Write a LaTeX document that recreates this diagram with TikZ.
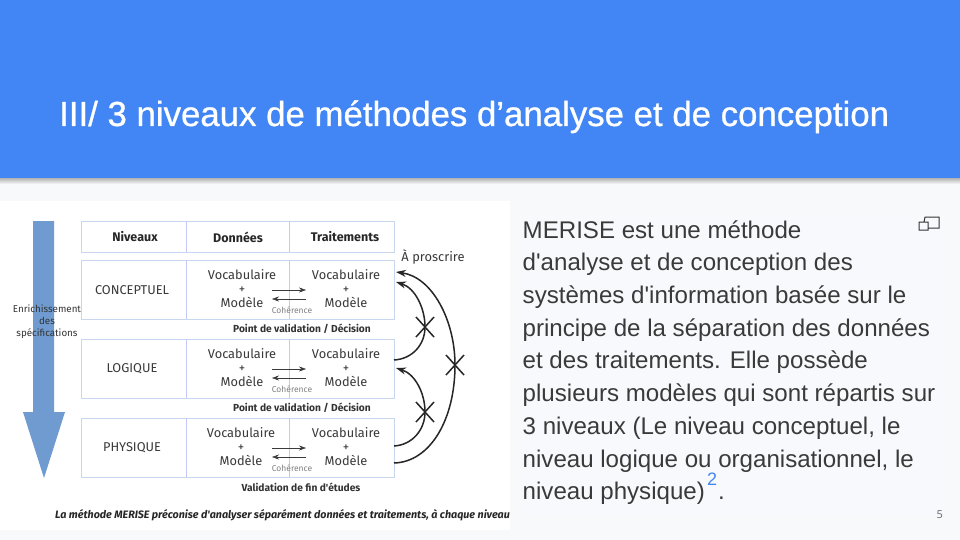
\documentclass[tikz,border=0pt]{standalone}
\usepackage{fontspec}
\setmainfont{Liberation Sans}
\newfontfamily\titlef[FakeBold=0.8]{Liberation Sans}
\newfontfamily\parf{Liberation Sans}
\newfontfamily\dia{Fira Sans}
\newfontfamily\numf{Noto Sans}
\usetikzlibrary{arrows.meta,calc}
\definecolor{hdr}{HTML}{4285F4}
\definecolor{slidebg}{HTML}{F8F9FA}
\definecolor{panel}{HTML}{F8F9FC}
\definecolor{cell}{HTML}{C9D6F0}
\definecolor{cellv}{HTML}{C4C8F8}
\definecolor{ink}{HTML}{3A3A3A}
\definecolor{arrowblue}{HTML}{6F9BD1}
\tikzset{
  x=1pt,y=-1pt,
  title/.style={anchor=base west,inner sep=0,text=white,font=\titlef\fontsize{34.8}{38}\selectfont},
  para/.style={anchor=base west,inner sep=0,text=ink,font=\parf\fontsize{24.1}{28}\selectfont},
  cellbox/.style={draw=cell,line width=1pt,fill=white},
  split/.style={draw=cellv,line width=1pt},
  headtxt/.style={inner sep=0,text=black!85,font=\dia\bfseries\fontsize{12.5}{14}\selectfont},
  leveltxt/.style={inner sep=0,text=ink,font=\dia\fontsize{12.8}{14}\selectfont},
  vmtxt/.style={inner sep=0,align=center,text=ink,font=\dia\fontsize{12.8}{14}\selectfont},
  valid/.style={inner sep=0,text=black!80,font=\dia\bfseries\fontsize{10.2}{11}\selectfont},
  coh/.style={inner sep=0,text=gray,font=\dia\fontsize{8.5}{9}\selectfont},
  thin arrow/.style={draw=ink,line width=.5pt,-{Stealth[length=7pt,width=5pt]}},
  big arc/.style={draw=black!85,line width=1.5pt,-{Stealth[length=10pt,width=7pt]}},
  cross/.style={draw=black!85,line width=1.5pt},
}
\newcommand{\levelrow}[4]{%
  \path[cellbox] (81,#1) rectangle (394,#1+59);
  \draw[split] (186,#1) -- (186,#1+59);
  \draw[split] (289,#1) -- (289,#1+59);
  \node[leveltxt] (lvl#2) at (132,#1+30) {#3};
  \node[vmtxt,anchor=center] (don#2) at (#4,#1+29) {Vocabulaire\\+\\Modèle};
  \node[vmtxt,anchor=center] (trt#2) at (346,#1+29) {Vocabulaire\\+\\Modèle};
  \coordinate (ra#2) at (272,#1+30);
  \coordinate (rb#2) at (306,#1+30);
  \coordinate (la#2) at (272,#1+39);
  \coordinate (lb#2) at (306,#1+39);
  \draw[thin arrow] (ra#2) -- (rb#2);
  \draw[thin arrow] (lb#2) -- (la#2);
  \node[coh] (coh#2) at (292,#1+50) {Cohérence};
}
\begin{document}
\begin{tikzpicture}
\useasboundingbox (0,0) rectangle (960,540);
\fill[slidebg] (0,0) rectangle (960,540);
\shade[top color=black!30,bottom color=slidebg] (0,178) rectangle (960,184);
\fill[hdr] (0,0) rectangle (960,178);
\node[title] (titre) at (59,126) {III/ 3 niveaux de méthodes d’analyse et de conception};

% left image
\fill[white] (0,201) rectangle (510,530);
\fill[arrowblue] (33,221) -- (54,221) -- (54,412) -- (65,412) -- (44,478) -- (23,412) -- (33,412) -- cycle;
\node[inner sep=0,align=center,text=black!80,font=\dia\fontsize{9.8}{12}\selectfont] (enrich) at (47,322) {Enrichissement\\des\\spécifications};

% header row
\path[cellbox] (81,221) rectangle (394,252);
\draw[split] (186,221) -- (186,252);
\draw[split] (289,221) -- (289,252);
\node[headtxt] (h1) at (135,237) {Niveaux};
\node[headtxt] (h2) at (238,237) {Données};
\node[headtxt] (h3) at (345,237) {Traitements};

\levelrow{260}{c}{CONCEPTUEL}{242}
\levelrow{339}{l}{LOGIQUE}{242}
\levelrow{418}{p}{PHYSIQUE}{241}

\node[valid] (v1) at (302,329) {Point de validation / Décision};
\node[valid] (v2) at (302,408) {Point de validation / Décision};
\node[valid] (v3) at (301,487) {Validation de fin d'études};
\node[inner sep=0,text=ink,font=\dia\fontsize{12.9}{14}\selectfont] (pros) at (433,257) {À proscrire};
\node[anchor=base west,inner sep=0,text=black!85,font=\dia\itshape\bfseries\fontsize{10.75}{12}\selectfont] (note) at (55,518) {La méthode MERISE préconise d'analyser séparément données et traitements, à chaque niveau};

% arcs
\coordinate (c1s) at (396,272);
\coordinate (c2e) at (396,282);
\coordinate (l1s) at (394,360);
\coordinate (l1e) at (396,368);
\coordinate (p1s) at (394,446);
\coordinate (p2s) at (394,463);
\draw[big arc] (l1s) .. controls (412,359) and (425,345) .. (425,327) .. controls (425,308) and (415,288) .. (c2e);
\draw[big arc] (p1s) .. controls (412,445) and (425,430) .. (425,412) .. controls (425,393) and (415,374) .. (l1e);
\draw[big arc] (p2s) .. controls (430,462) and (455,420) .. (455,365) .. controls (455,320) and (432,277) .. (c1s);
\draw[cross] (416,317) -- (434,337) (416,337) -- (434,317);
\draw[cross] (416,402) -- (434,422) (416,422) -- (434,402);
\draw[cross] (446,355) -- (464,375) (446,375) -- (464,355);

% right panel
\fill[panel] (522,217) rectangle (945,516);
\node[para] (p1) at (522.5,238) {MERISE est une méthode};
\node[para] (p2) at (522.5,270.5) {d'analyse et de conception des};
\node[para] (p3) at (522.5,303) {systèmes d'information basée sur le};
\node[para] (p4) at (522.5,336) {principe de la séparation des données};
\node[para] (p5) at (522.5,368) {et des traitements. Elle possède};
\node[para] (p6) at (522.5,401) {plusieurs modèles qui sont répartis sur};
\node[para] (p7) at (522.5,434) {3 niveaux (Le niveau conceptuel, le};
\node[para] (p8) at (522.5,467) {niveau logique ou organisationnel, le};
\node[para] (p9) at (522.5,499) {niveau physique)};
\node[anchor=base west,inner sep=0,text=hdr,font=\fontsize{18}{20}\selectfont] (sup) at (707,485) {2};
\node[para] (pt) at (718,499) {.};
\draw[black!80,line width=1pt] (924,222) -- (925,217) -- (939,217) -- (939,228) -- (928,228) (919,222) rectangle (928,230);
\node[anchor=base east,inner sep=0,text=black!55,font=\numf\fontsize{11}{13}\selectfont] (num) at (943,518) {5};
\end{tikzpicture}
\end{document}
